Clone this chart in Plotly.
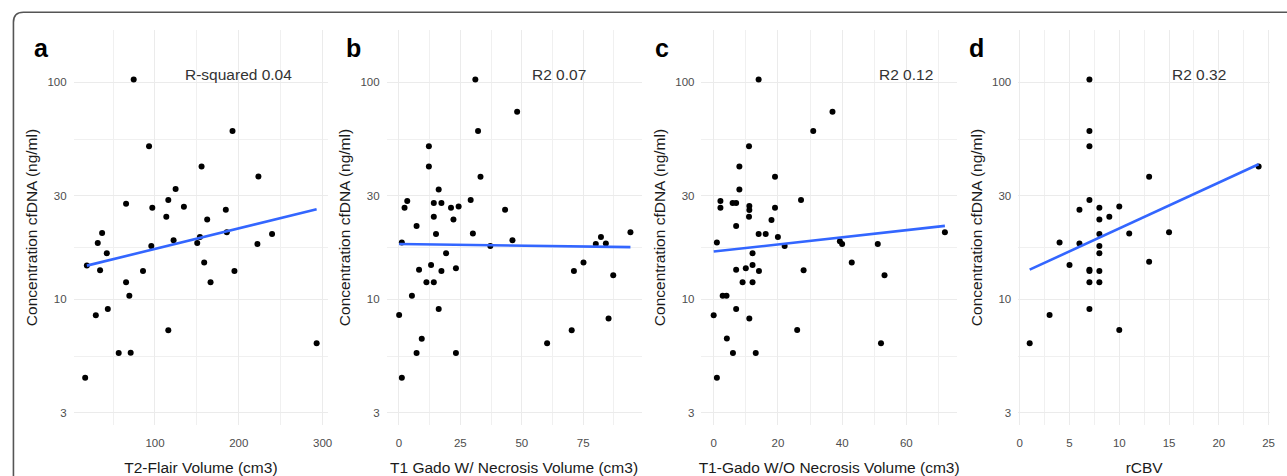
import math
import plotly.graph_objects as go

# ---------------- data ----------------
a_x = [16.7, 18.7, 29.4, 31.7, 34.5, 36.9, 42.5, 43.7, 56.7, 71.0, 65.5, 65.5, 69.4, 74.6,
       85.7, 92.9, 95.6, 96.8, 113.5, 115.9, 115.9, 122.2, 124.6, 134.5, 150.4, 153.6,
       155.6, 158.7, 162.3, 166.3, 184.5, 185.7, 192.5, 194.8, 222.2, 223.4, 239.7, 292.9]
a_y = [4.35, 14.3, 8.44, 18.2, 13.6, 20.2, 16.3, 9.03, 5.66, 5.67, 27.6, 12.0, 10.4, 102.9,
       13.5, 50.7, 17.6, 26.4, 24.0, 28.7, 7.2, 18.7, 32.2, 26.7, 18.2, 19.4,
       40.9, 14.8, 23.3, 12.0, 25.9, 20.4, 59.7, 13.5, 18.0, 36.8, 20.0, 6.27]

b_x = [0.1, 1.2, 1.2, 2.3, 3.4, 5.3, 7.2, 7.2, 8.2, 9.3, 11.2, 12.2, 12.2, 13.1, 14.2, 14.2,
       14.2, 15.1, 16.2, 16.2, 17.3, 17.3, 19.2, 21.2, 22.2, 23.2, 23.2, 24.3, 29.2, 30.1,
       31.1, 32.2, 33.2, 37.2, 43.2, 46.2, 48.1, 60.3, 70.3, 71.2, 75.1, 80.1, 82.2, 84.2,
       85.3, 87.2, 94.2]
b_y = [8.47, 4.35, 18.3, 26.4, 28.4, 10.4, 21.8, 5.66, 13.7, 6.58, 12.0, 50.7, 40.9, 14.4,
       24.0, 27.8, 12.0, 20.0, 32.1, 9.02, 27.8, 13.5, 16.3, 26.4, 23.3, 13.9, 5.66, 26.8,
       28.7, 20.1, 102.9, 59.7, 36.7, 17.6, 25.9, 18.7, 73.2, 6.27, 7.2, 13.5, 14.8, 18.0,
       19.4, 18.1, 8.15, 12.9, 20.4]

c_x = [0.0, 1.0, 1.0, 2.1, 2.1, 2.8, 4.0, 4.1, 5.9, 6.0, 7.0, 7.0, 7.0, 7.0, 8.0, 8.0, 9.0,
       10.0, 11.0, 11.1, 11.1, 11.0, 11.1, 12.1, 12.1, 12.1, 13.1, 14.0, 14.0, 14.1, 16.2,
       18.0, 19.1, 19.1, 20.0, 22.1, 26.0, 27.2, 28.0, 31.0, 37.0, 39.3, 40.0, 43.0, 51.1,
       52.1, 53.2, 72.0]
c_y = [8.44, 4.35, 18.3, 28.4, 26.4, 10.4, 10.4, 6.6, 27.8, 5.66, 27.8, 21.8, 13.7, 9.02,
       40.9, 32.1, 12.0, 13.9, 50.7, 26.9, 25.8, 24.0, 8.15, 16.3, 14.4, 12.0, 5.66, 102.9,
       20.0, 13.5, 20.0, 23.2, 36.7, 26.4, 19.4, 17.6, 7.23, 28.7, 13.6, 59.7, 73.2, 18.5,
       18.0, 14.8, 18.0, 6.27, 12.9, 20.4]

d_x = [1, 3, 4, 5, 6, 6, 7, 7, 7, 7, 7, 7, 7, 7, 8, 8, 8, 8, 8, 8, 8, 9, 10, 10, 11, 13, 13,
       15, 24]
d_y = [6.27, 8.47, 18.3, 14.4, 25.9, 18.1, 102.9, 59.7, 50.7, 28.7, 13.7, 13.5, 12.0, 9.02,
       26.4, 23.3, 20.0, 17.6, 16.3, 13.5, 12.0, 24.0, 26.8, 7.23, 20.1, 36.7, 14.9, 20.4,
       40.9]

# fitted lm lines (end points)
fit_a_x = [18.7, 292.9]
fit_a_y = [14.3, 26.0]
fit_b_x = [0.1, 94.2]
fit_b_y = [18.0, 17.4]
fit_c_x = [0.0, 72.0]
fit_c_y = [16.6, 21.8]
fit_d_x = [1, 24]
fit_d_y = [13.7, 41.9]

x_titles = ["T2-Flair Volume (cm3)", "T1 Gado W/ Necrosis Volume (cm3)",
            "T1-Gado W/O Necrosis Volume (cm3)", "rCBV"]
y_title = "Concentration cfDNA (ng/ml)"
panel_letters = ["a", "b", "c", "d"]
r2_texts = ["R-squared 0.04", "R2 0.07", "R2 0.12", "R2 0.32"]
r2_x = [200, 65, 60, 18]
r2_y = 109

y_ticks = [3, 10, 30, 100]
y_minor = [5.477, 17.32, 54.77, 173.2]
x_major = [[100, 200, 300], [0, 25, 50, 75], [0, 20, 40, 60], [0, 5, 10, 15, 20, 25]]
x_minor = [[50, 150, 250], [12.5, 37.5, 62.5, 87.5], [10, 30, 50, 70],
           [2.5, 7.5, 12.5, 17.5, 22.5]]

# ---------------- layout geometry ----------------
W, H = 1287, 476
x_px = [(72, 328), (386.7, 643), (703.3, 960), (1021.8, 1275)]
x_ranges = [[2.9, 306.7], [-5.0, 98.7], [-3.8, 75.7], [-0.15, 25.15]]
y_top, y_bot = 30, 425
y_range = [0.421, 2.241]
letter_px = [30, 343.5, 655, 970]

fig = go.Figure()
panels = [(a_x, a_y, fit_a_x, fit_a_y), (b_x, b_y, fit_b_x, fit_b_y),
          (c_x, c_y, fit_c_x, fit_c_y), (d_x, d_y, fit_d_x, fit_d_y)]

grid_major = "#ebebeb"
grid_minor = "#f0f0f0"
FONT = "Liberation Sans, Arial, sans-serif"
tick_font = dict(family=FONT, size=11.5, color="#4d4d4d")
title_font = dict(family=FONT, size=15.5, color="#1a1a1a")

for i, (px_, py_, fx, fy) in enumerate(panels):
    sfx = "" if i == 0 else str(i + 1)
    fig.add_trace(go.Scatter(x=px_, y=py_, mode="markers",
                             marker=dict(color="black", size=6),
                             xaxis="x" + sfx, yaxis="y" + sfx, showlegend=False))
    fig.add_trace(go.Scatter(x=fx, y=fy, mode="lines",
                             line=dict(color="#3366FF", width=2.6),
                             xaxis="x" + sfx, yaxis="y" + sfx, showlegend=False))
    x0, x1 = x_px[i]
    fig.layout["xaxis" + sfx] = dict(
        domain=[x0 / W, x1 / W], range=x_ranges[i], anchor="y" + sfx,
        tickmode="array", tickvals=x_major[i], showgrid=True, gridcolor=grid_major,
        gridwidth=1.1, zeroline=False, showline=False, ticks="",
        tickfont=tick_font, ticklabelstandoff=9,
        minor=dict(tickmode="array", tickvals=x_minor[i], showgrid=True,
                   gridcolor=grid_minor, gridwidth=0.8),
        title=dict(text=x_titles[i], font=title_font, standoff=15),
        fixedrange=True)
    fig.layout["yaxis" + sfx] = dict(
        domain=[1 - y_bot / H, 1 - y_top / H], type="log", range=y_range,
        anchor="x" + sfx, tickmode="array", tickvals=y_ticks,
        ticktext=[str(v) for v in y_ticks], showgrid=True, gridcolor=grid_major,
        gridwidth=1.1, zeroline=False, showline=False, ticks="",
        tickfont=tick_font, ticklabelstandoff=6,
        minor=dict(tickmode="array", tickvals=y_minor, showgrid=True,
                   gridcolor=grid_minor, gridwidth=0.8),
        title=dict(text=y_title, font=title_font, standoff=5),
        fixedrange=True)
    fig.add_annotation(x=r2_x[i], y=math.log10(r2_y),
                       xref="x" + sfx, yref="y" + sfx, text=r2_texts[i],
                       showarrow=False, font=dict(family=FONT, size=15.5, color="#333333"))
    fig.add_annotation(x=letter_px[i] / W, y=1 - 48 / H, xref="paper", yref="paper",
                       xanchor="left", yanchor="middle",
                       text="<b>" + panel_letters[i] + "</b>", showarrow=False,
                       font=dict(family=FONT, size=25, color="black"))

# rounded frame (top-left corner visible)
lx, ty, r = 11.5, 12.3, 10
path = (f"M {lx/W},-0.05 L {lx/W},{1-(ty+r)/H} "
        f"Q {lx/W},{1-ty/H} {(lx+r)/W},{1-ty/H} L 1.05,{1-ty/H}")
fig.add_shape(type="path", path=path, xref="paper", yref="paper",
              line=dict(color="#555555", width=1.6))

fig.update_layout(width=W, height=H, margin=dict(l=0, r=0, t=0, b=0),
                  paper_bgcolor="white", plot_bgcolor="white",
                  font=dict(family=FONT, color="#4d4d4d"))
fig.write_html("out.html",
               config={"displayModeBar": False},
               post_script="document.body.style.margin='0';"
                           "document.body.style.padding='0';"
                           "document.body.style.overflow='hidden';")
